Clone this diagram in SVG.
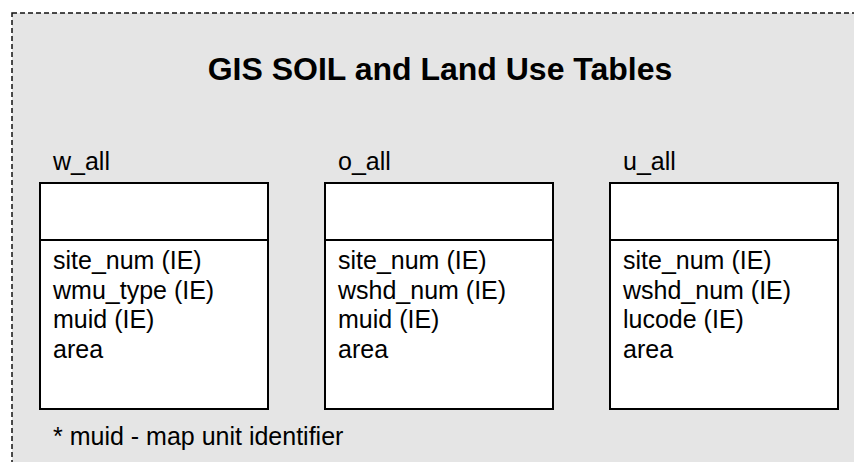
<svg xmlns="http://www.w3.org/2000/svg" width="854" height="462" viewBox="0 0 854 462">
<style>
.t{font-family:"Liberation Sans",Arial,sans-serif;font-size:25px;fill:#000}
.title{font-family:"Liberation Sans",Arial,sans-serif;font-size:32px;font-weight:bold;fill:#000}
.box{fill:#fff;stroke:#000;stroke-width:2}
.div{stroke:#000;stroke-width:2}
</style>
<rect x="12" y="13" width="860" height="470" fill="#e5e5e5" stroke="#111" stroke-width="1.5" stroke-dasharray="5,3"/>
<text class="title" x="440" y="80" text-anchor="middle">GIS SOIL and Land Use Tables</text>
<g id="w_all">
<text class="t" x="53" y="170">w_all</text>
<rect class="box" x="40" y="183" width="228" height="226"/>
<line class="div" x1="40" y1="240" x2="268" y2="240"/>
<text class="t" x="53" y="269">site_num (IE)</text>
<text class="t" x="53" y="299">wmu_type (IE)</text>
<text class="t" x="53" y="328">muid (IE)</text>
<text class="t" x="53" y="358">area</text>
</g>
<g id="o_all">
<text class="t" x="338" y="170">o_all</text>
<rect class="box" x="325" y="183" width="228" height="226"/>
<line class="div" x1="325" y1="240" x2="553" y2="240"/>
<text class="t" x="338" y="269">site_num (IE)</text>
<text class="t" x="338" y="299">wshd_num (IE)</text>
<text class="t" x="338" y="328">muid (IE)</text>
<text class="t" x="338" y="358">area</text>
</g>
<g id="u_all">
<text class="t" x="623" y="170">u_all</text>
<rect class="box" x="610" y="183" width="228" height="226"/>
<line class="div" x1="610" y1="240" x2="838" y2="240"/>
<text class="t" x="623" y="269">site_num (IE)</text>
<text class="t" x="623" y="299">wshd_num (IE)</text>
<text class="t" x="623" y="328">lucode (IE)</text>
<text class="t" x="623" y="358">area</text>
</g>
<g id="connectors"></g>
<text class="t" x="53" y="445">* muid - map unit identifier</text>
</svg>
